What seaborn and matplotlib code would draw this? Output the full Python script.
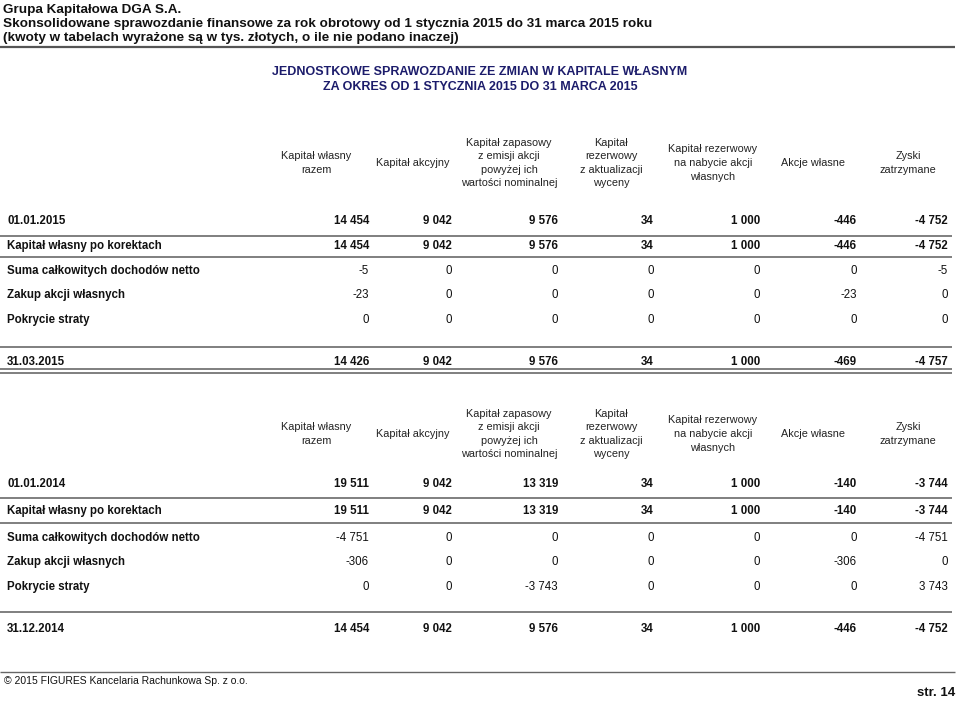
import matplotlib
matplotlib.use("Agg")
import matplotlib.pyplot as plt
import seaborn as sns

# ---- data ----
page_header = [
    "Grupa Kapitałowa DGA S.A.",
    "Skonsolidowane sprawozdanie finansowe za rok obrotowy od 1 stycznia 2015 do 31 marca 2015 roku",
    "(kwoty w tabelach wyrażone są w tys. złotych, o ile nie podano inaczej)",
]
report_title = [
    "JEDNOSTKOWE SPRAWOZDANIE ZE ZMIAN W KAPITALE WŁASNYM",
    "ZA OKRES OD 1 STYCZNIA 2015 DO 31 MARCA 2015",
]
column_headers = [
    "Kapitał własny\nrazem",
    "Kapitał akcyjny",
    "Kapitał zapasowy\nz emisji akcji\npowyżej ich\nwartości nominalnej",
    "Kapitał\nrezerwowy\nz aktualizacji\nwyceny",
    "Kapitał rezerwowy\nna nabycie akcji\nwłasnych",
    "Akcje własne",
    "Zyski\nzatrzymane",
]

rows_2015 = ["01.01.2015", "Kapitał własny po korektach", "Suma całkowitych dochodów netto",
             "Zakup akcji własnych", "Pokrycie straty", "31.03.2015"]
values_2015 = [
    [14454, 9042, 9576, 34, 1000, -446, -4752],
    [14454, 9042, 9576, 34, 1000, -446, -4752],
    [-5, 0, 0, 0, 0, 0, -5],
    [-23, 0, 0, 0, 0, -23, 0],
    [0, 0, 0, 0, 0, 0, 0],
    [14426, 9042, 9576, 34, 1000, -469, -4757],
]

rows_2014 = ["01.01.2014", "Kapitał własny po korektach", "Suma całkowitych dochodów netto",
             "Zakup akcji własnych", "Pokrycie straty", "31.12.2014"]
values_2014 = [
    [19511, 9042, 13319, 34, 1000, -140, -3744],
    [19511, 9042, 13319, 34, 1000, -140, -3744],
    [-4751, 0, 0, 0, 0, 0, -4751],
    [-306, 0, 0, 0, 0, -306, 0],
    [0, 0, -3743, 0, 0, 0, 3743],
    [14454, 9042, 9576, 34, 1000, -446, -4752],
]
bold_rows = [0, 1, 5]

footer_left = "© 2015 FIGURES Kancelaria Rachunkowa Sp. z o.o."
footer_right = "str. 14"

# ---- layout ----
W, H = 960, 701
col_right = [369, 452, 558, 654, 760, 857, 948]
col_center = [316, 413, 509, 611, 713, 813, 908]
line_color = "#7f7f7f"
navy = "#1c1c6b"
ink = "#111111"

sns.set_theme(style="white")
plt.rcParams["font.family"] = ["Liberation Sans", "DejaVu Sans"]


def fmt(v):
    return f"{v:,}".replace(",", " ")


fig = plt.figure(figsize=(W / 100, H / 100), dpi=100)
ax = fig.add_axes([0, 0, 1, 1])
ax.set_xlim(0, W)
ax.set_ylim(H, 0)
ax.axis("off")

# page header
for i, t in enumerate(page_header):
    ax.text(3, 12.5 + i * 14.5, t, fontsize=9.7, fontweight="bold", va="baseline", ha="left", color=ink)
ax.hlines(47, 0, 955, color="#555555", lw=1.6)

for i, t in enumerate(report_title):
    ax.text(480, 72 + i * 15, t, fontsize=9.0, fontweight="bold", va="center", ha="center", color=navy)


def draw_header(yc):
    for x, t in zip(col_center, column_headers):
        ax.text(x, yc, t, fontsize=7.85, ha="center", va="center", linespacing=1.45,
                color="#222222")


def draw_table(labels, values, ys):
    for r, (lab, vals, y) in enumerate(zip(labels, values, ys)):
        ax.text(7, y, lab, fontsize=8.3, fontweight="bold", va="center", ha="left", color=ink)
        w = "bold" if r in bold_rows else "normal"
        for x, v in zip(col_right, vals):
            ax.text(x, y, fmt(v), fontsize=8.3, fontweight=w, va="center", ha="right", color=ink)


# table 2015
draw_header(163)
draw_table(rows_2015, values_2015, [221, 246, 271, 295, 320, 362])
ax.hlines([236, 257, 347], 0, 952, color=line_color, lw=1.4)
ax.hlines([369, 372.5], 0, 952, color=line_color, lw=1.4)

# table 2014
draw_header(434)
draw_table(rows_2014, values_2014, [484, 511, 538, 562, 587, 629])
ax.hlines([498, 523, 612], 0, 952, color=line_color, lw=1.4)

# footer
ax.hlines(672, 0, 955, color="#666666", lw=1.0)
ax.text(4, 681, footer_left, fontsize=7.5, va="center", ha="left", color=ink)
ax.text(955, 693, footer_right, fontsize=9.5, fontweight="bold", va="center", ha="right", color=ink)

fig.savefig("out.png", dpi=100, facecolor="white")
